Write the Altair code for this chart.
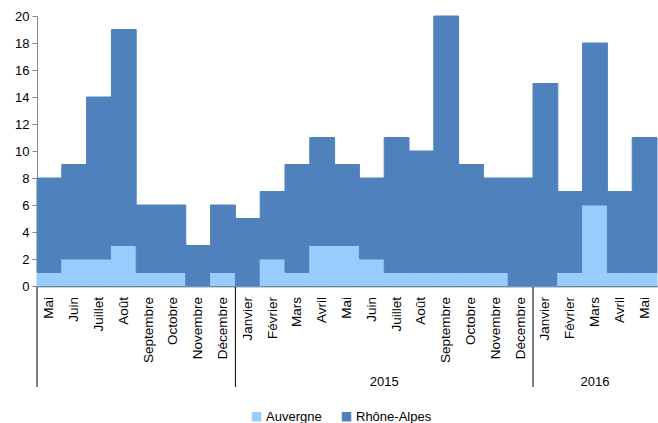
import altair as alt
import pandas as pd

months = ["Mai", "Juin", "Juillet", "Août", "Septembre", "Octobre", "Novembre", "Décembre",
          "Janvier", "Février", "Mars", "Avril", "Mai", "Juin", "Juillet", "Août",
          "Septembre", "Octobre", "Novembre", "Décembre",
          "Janvier", "Février", "Mars", "Avril", "Mai"]
years = [2014] * 8 + [2015] * 12 + [2016] * 5
totals = [8, 9, 14, 19, 6, 6, 3, 6,
          5, 7, 9, 11, 9, 8, 11, 10, 20, 9, 8, 8,
          15, 7, 18, 7, 11]
auvergne = [1, 2, 2, 3, 1, 1, 0, 1,
            0, 2, 1, 3, 3, 2, 1, 1, 1, 1, 1, 0,
            0, 1, 6, 1, 1]
rhone = [t - a for t, a in zip(totals, auvergne)]

series = ["Auvergne", "Rhône-Alpes"]
colors = ["#99CCFF", "#4F81BD"]

year_labels = ["2015", "2016"]
year_pos = [14, 22]          # index of the bar at/around the group centre
year_band = [0, 0.5]         # band position within that bar
separators = [0, 8, 20]      # first bar of each year group

rows = []
for i in range(len(months)):
    rows.append({"idx": i, "serie": "Auvergne", "v": auvergne[i], "o": 0})
    rows.append({"idx": i, "serie": "Rhône-Alpes", "v": rhone[i], "o": 1})
df = pd.DataFrame(rows)
mdf = pd.DataFrame({"idx": list(range(len(months))), "m": months})
sdf = pd.DataFrame({"idx": separators})

FONT = "Liberation Sans"
xscale = alt.Scale(paddingInner=0, paddingOuter=0)
cscale = alt.Scale(domain=series, range=colors)

bars = alt.Chart(df).mark_bar(clip=False, strokeWidth=1).encode(
    x=alt.X("idx:O", scale=xscale,
            axis=alt.Axis(labels=False, ticks=False, title=None, domainColor="#404040",
                          domainWidth=1.5)),
    y=alt.Y("v:Q", stack="zero",
            scale=alt.Scale(domain=[0, 20], nice=False),
            axis=alt.Axis(values=list(range(0, 21, 2)), title=None, grid=False,
                          domainColor="#868686", tickColor="#868686", tickSize=5,
                          labelFont=FONT, labelFontSize=13, labelColor="#000000",
                          labelPadding=3)),
    color=alt.Color("serie:N", scale=cscale,
                    legend=alt.Legend(orient="none", legendX=213, legendY=394,
                                      direction="horizontal", title=None,
                                      symbolType="square", symbolSize=90,
                                      symbolStrokeWidth=0,
                                      labelFont=FONT, labelFontSize=13,
                                      labelColor="#000000", labelOffset=3,
                                      columnPadding=18, padding=0)),
    stroke=alt.Stroke("serie:N", scale=cscale, legend=None),
    order=alt.Order("o:Q"),
)

mlabels = alt.Chart(mdf).mark_text(angle=270, align="right", baseline="middle",
                                   font=FONT, fontSize=13.5, color="#000000").encode(
    x=alt.X("idx:O", scale=xscale),
    y=alt.value(281),
    text="m:N",
)

seps = alt.Chart(sdf).mark_rule(color="#000000", strokeWidth=1).encode(
    x=alt.X("idx:O", scale=xscale, bandPosition=0),
    y=alt.value(271),
    y2=alt.value(371),
)

ylab1 = alt.Chart(pd.DataFrame({"idx": [year_pos[0]], "t": [year_labels[0]]})).mark_text(
    font=FONT, fontSize=13, color="#000000", baseline="middle").encode(
    x=alt.X("idx:O", scale=xscale, bandPosition=year_band[0]),
    y=alt.value(366),
    text="t:N",
)
ylab2 = alt.Chart(pd.DataFrame({"idx": [year_pos[1]], "t": [year_labels[1]]})).mark_text(
    font=FONT, fontSize=13, color="#000000", baseline="middle").encode(
    x=alt.X("idx:O", scale=xscale, bandPosition=year_band[1]),
    y=alt.value(366),
    text="t:N",
)

chart = alt.layer(bars, mlabels, seps, ylab1, ylab2).properties(
    width=620, height=270,
    autosize=alt.AutoSizeParams(type="none"),
    padding={"left": 37, "top": 16, "right": 1, "bottom": 137},
).configure_view(stroke=None)

chart.save("out.html", embed_options={"renderer": "svg", "actions": False})
